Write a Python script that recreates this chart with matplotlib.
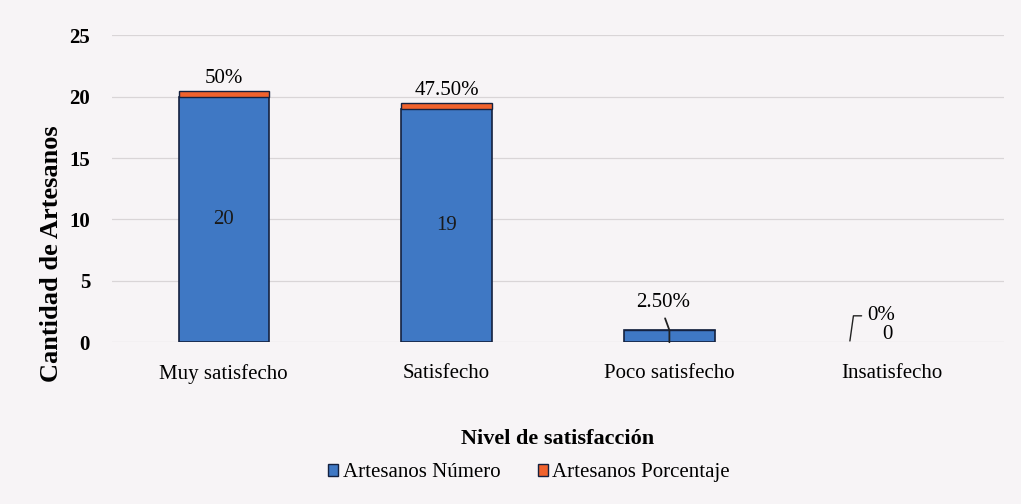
import matplotlib.pyplot as plt
import numpy as np

plt.rcParams["font.family"] = ["Liberation Serif", "DejaVu Serif"]

categorias = ["Muy satisfecho", "Satisfecho", "Poco satisfecho", "Insatisfecho"]
numero = [20, 19, 1, 0]
porcentaje = [0.50, 0.475, 0.025, 0.0]
etiquetas_pct = ["50%", "47.50%", "2.50%", "0%"]

bg = "#f7f4f6"
azul = "#3f78c4"
naranja = "#f0622d"
borde = "#14213f"
fs = 15

fig = plt.figure(figsize=(10.21, 5.04), dpi=100, facecolor=bg)
ax = fig.add_axes([0.110, 0.321, 0.873, 0.609])
ax.set_facecolor(bg)

r = np.arange(len(categorias))
width = 0.405

lw_num = [1.2 if v > 0 else 0 for v in numero]
lw_pct = [1.0 if v > 0 else 0 for v in porcentaje]
b1 = ax.bar(r, numero, width, color=azul, edgecolor=borde, linewidth=lw_num, zorder=3)
b2 = ax.bar(r, porcentaje, width, bottom=numero, color=naranja, edgecolor=borde,
            linewidth=lw_pct, zorder=3)

ax.set_ylim(0, 25)
ax.set_xlim(-0.5, 3.5)
ax.set_yticks(range(0, 26, 5))
ax.set_xticks(r)
ax.set_xticklabels(categorias, fontsize=fs)
ax.tick_params(axis="y", labelsize=fs, length=0, pad=16)
ax.tick_params(axis="x", length=0, pad=16)
for t in ax.get_yticklabels():
    t.set_fontweight("bold")
ax.grid(axis="y", color="#d9d5d7", linewidth=0.9, zorder=0)
for s in ax.spines.values():
    s.set_visible(False)

ax.set_ylabel("Cantidad de Artesanos", fontsize=19, fontweight="bold")
ax.yaxis.set_label_coords(-0.055, 0.29)
ax.set_xlabel("Nivel de satisfacción", fontsize=16, fontweight="bold", labelpad=32)

# numeros dentro de las barras
for i in range(2):
    ax.text(r[i], numero[i] / 2, f"{numero[i]}", ha="center", va="center",
            fontsize=fs, color="#1a1a1a", zorder=4)

# porcentajes encima
for i in range(2):
    ax.annotate(etiquetas_pct[i], xy=(r[i], numero[i] + porcentaje[i]), xytext=(0, 2),
                textcoords="offset points", ha="center", va="bottom", fontsize=fs, zorder=4)

ax.annotate(etiquetas_pct[2], xy=(r[2], 0.0), xytext=(r[2] - 0.03, 3.25),
            ha="center", va="center", fontsize=fs, zorder=4,
            arrowprops=dict(arrowstyle="-", color="#222222", lw=1.3, patchA=None,
                            connectionstyle="angle,angleA=-70,angleB=90,rad=0",
                            relpos=(0.5, 0.0), shrinkA=5, shrinkB=0))

ax.text(r[3] - 0.02, 0.62, f"{numero[3]}", ha="center", va="center", fontsize=fs, zorder=4)
ax.annotate(etiquetas_pct[3], xy=(r[3] - 0.19, 0.1), xytext=(r[3] - 0.05, 2.15),
            ha="center", va="center", fontsize=fs, zorder=4,
            arrowprops=dict(arrowstyle="-", color="#222222", lw=1.0,
                            connectionstyle="angle,angleA=0,angleB=82,rad=0",
                            relpos=(0, 0.5), shrinkA=2, shrinkB=0))

handles = [plt.Rectangle((0, 0), 1, 1, facecolor=azul, edgecolor=borde),
           plt.Rectangle((0, 0), 1, 1, facecolor=naranja, edgecolor=borde)]
fig.legend(handles, ["Artesanos Número", "Artesanos Porcentaje"], loc="center",
           bbox_to_anchor=(0.518, 0.062), ncol=2, frameon=False, fontsize=fs,
           handlelength=0.5, handleheight=0.5, handletextpad=0.2, columnspacing=1.8)

fig.savefig("out.png", dpi=100, facecolor=bg)
